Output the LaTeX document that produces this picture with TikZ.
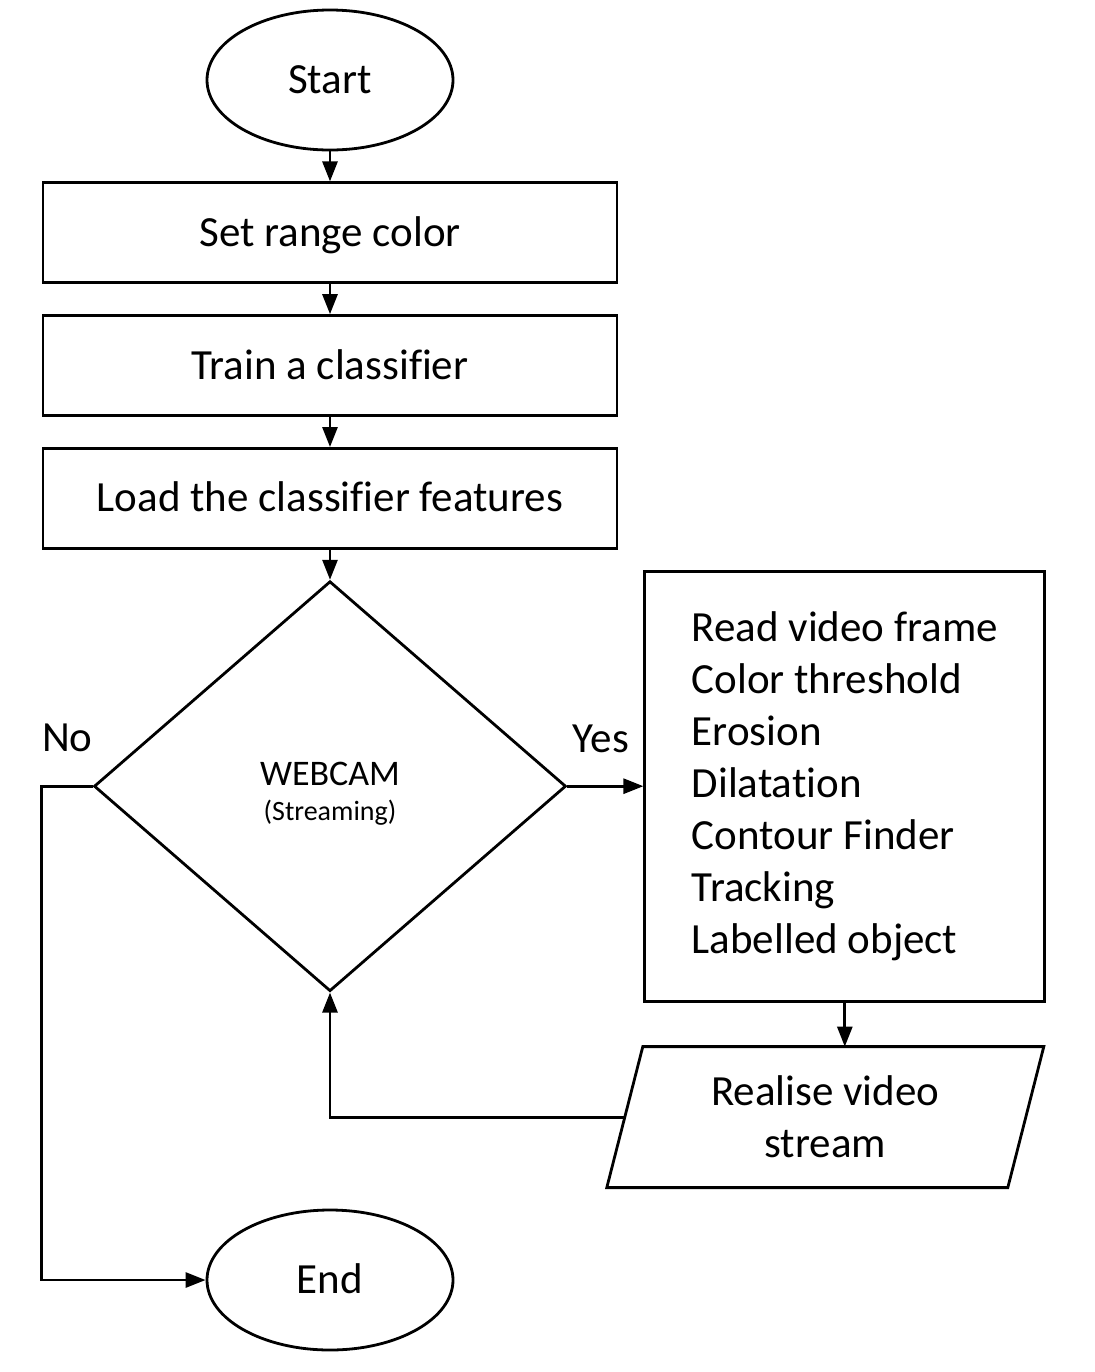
\documentclass[tikz,border=0pt]{standalone}
\usepackage{fontspec}
\setmainfont{Carlito}[Ligatures=NoCommon]
\usetikzlibrary{shapes.geometric, arrows.meta, positioning, calc}

\begin{document}
\begin{tikzpicture}[
    x=0.5pt, y=-0.5pt,
    node distance=15pt,
    every node/.style={font=\fontsize{21.5}{26}\selectfont},
    term/.style={ellipse, draw, line width=1.4pt, minimum width=123pt, minimum height=70pt,
                 text height=15pt, text depth=1.5pt},
    stepbox/.style={rectangle, draw, line width=1.4pt, minimum width=287pt, minimum height=50pt,
                    text height=15pt, text depth=1.5pt},
    decision/.style={diamond, draw, line width=1.4pt, minimum width=236pt, minimum height=205pt,
                     inner sep=0pt, align=center, text height=36.8pt},
    procbox/.style={rectangle, draw, line width=1.4pt, minimum width=200pt, minimum height=215pt,
                    align=left},
    iobox/.style={rectangle, outer sep=0pt, minimum width=200.5pt, minimum height=70.5pt, align=center},
    lbl/.style={inner sep=0pt},
    arrow/.style={-{Triangle[length=10pt, width=7.5pt]}, line width=1.4pt}
]
\useasboundingbox (0,0) rectangle (1094,1372);

% Steps
\node[term] (start) at (330,80) {Start};
\node[stepbox, below=of start] (range) {Set range color};
\node[stepbox, below=of range] (train) {Train a classifier};
\node[stepbox, below=of train] (load) {Load the classifier features};
\node[decision, below=of load] (webcam) {\fontsize{18}{19}\selectfont WEBCAM\\[-8.5pt]{\fontsize{14}{19}\selectfont (Streaming)}};
\node[procbox, right=38pt of webcam] (proc) {Read video frame\\Color threshold\\Erosion\\Dilatation\\Contour Finder\\Tracking\\Labelled object};
\node[iobox, below=22pt of proc, xshift=-9.75pt] (stream) {Realise video\\stream};
\draw[line width=1.4pt] ([xshift=9pt]stream.north west) -- ([xshift=9pt]stream.north east)
    -- ([xshift=-9pt]stream.south east) -- ([xshift=-9pt]stream.south west) -- cycle;
\node[term, below=108pt of webcam] (end) {End};

% Labels
\coordinate (nocorner) at (webcam.west -| load.west);
\node[lbl, anchor=base west] (no) at ($(nocorner)+(0,-35)$) {No};
\node[lbl, anchor=base west] (yes) at ($(webcam.east)+(5,-34)$) {Yes};

% Arrows
\draw[arrow] (start) -- (range);
\draw[arrow] (range) -- (train);
\draw[arrow] (train) -- (load);
\draw[arrow] (load) -- (webcam);
\draw[arrow] (webcam) -- (proc);
\draw[arrow] (proc) -- (proc |- stream.north);
\draw[arrow] (stream.west) -| (webcam.south);
\draw[arrow] (webcam.west) -- (nocorner) |- (end.west);

\end{tikzpicture}
\end{document}
